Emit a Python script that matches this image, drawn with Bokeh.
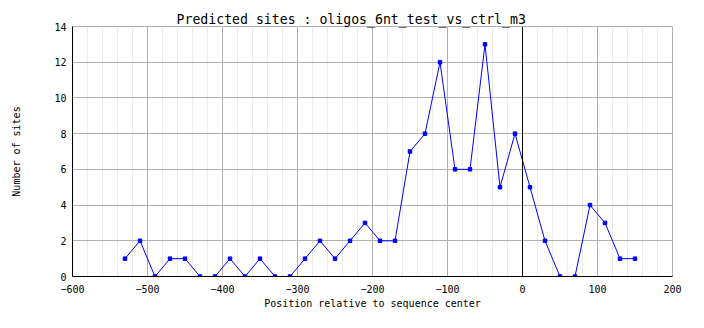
from bokeh.plotting import figure
from bokeh.models import Span, SingleIntervalTicker, Range1d
from bokeh.embed import file_html
from bokeh.resources import INLINE

title_text = "Predicted sites : oligos_6nt_test_vs_ctrl_m3"
x_label = "Position relative to sequence center"
y_label = "Number of sites"

positions = [-530, -510, -490, -470, -450, -430, -410, -390, -370, -350,
             -330, -310, -290, -270, -250, -230, -210, -190, -170, -150,
             -130, -110, -90, -70, -50, -30, -10, 10, 30, 50,
             70, 90, 110, 130, 150]
sites = [1, 2, 0, 1, 1, 0, 0, 1, 0, 1,
         0, 0, 1, 2, 1, 2, 3, 2, 2, 7,
         8, 12, 6, 6, 13, 5, 8, 5, 2, 0,
         0, 4, 3, 1, 1]
center = 0

FONT = "DejaVu Sans Mono"

p = figure(width=704, height=328, output_backend="svg", toolbar_location=None,
           frame_width=600, frame_height=250,
           min_border_left=72, min_border_right=32, min_border_top=26, min_border_bottom=52,
           x_range=Range1d(-600, 200), y_range=Range1d(0, 14))

p.title.text = title_text
p.title.align = "left"
p.title.offset = 104
p.title.text_font = FONT
p.title.text_font_size = "13.2px"
p.title.text_font_style = "normal"
p.title.text_color = "black"
p.title.standoff = 0

p.xaxis.ticker = SingleIntervalTicker(interval=100, num_minor_ticks=5)
p.yaxis.ticker = SingleIntervalTicker(interval=2, num_minor_ticks=0)

for ax in (p.xaxis, p.yaxis):
    ax.major_tick_in = 0
    ax.major_tick_out = 0
    ax.minor_tick_in = 0
    ax.minor_tick_out = 0
    ax.axis_line_color = "black"
    ax.axis_line_width = 1
    ax.major_label_text_font = FONT
    ax.major_label_text_font_size = "10px"
    ax.major_label_text_color = "black"
    ax.axis_label_text_font = FONT
    ax.axis_label_text_font_size = "10px"
    ax.axis_label_text_font_style = "normal"
    ax.axis_label_text_color = "black"

p.xaxis.axis_label = x_label
p.xaxis.major_label_standoff = 8
p.xaxis.axis_label_standoff = 2
p.yaxis.axis_label = y_label
p.yaxis.major_label_standoff = 6
p.yaxis.axis_label_standoff = 29

p.xgrid.grid_line_color = "#b0b0b0"
p.ygrid.grid_line_color = "#b0b0b0"
p.xgrid.minor_grid_line_color = "#ebebeb"
p.ygrid.minor_grid_line_color = None

p.outline_line_color = "#b0b0b0"
p.background_fill_color = "white"
p.border_fill_color = "white"

p.add_layout(Span(location=center, dimension="height", line_color="black", line_width=1))

p.line(positions, sites, line_color="#0000ff", line_width=1)
p.scatter(positions, sites, marker="square", size=3.5, fill_color="#0000ff", line_color="#0000ff")

open("out.html", "w").write(file_html(p, INLINE))
